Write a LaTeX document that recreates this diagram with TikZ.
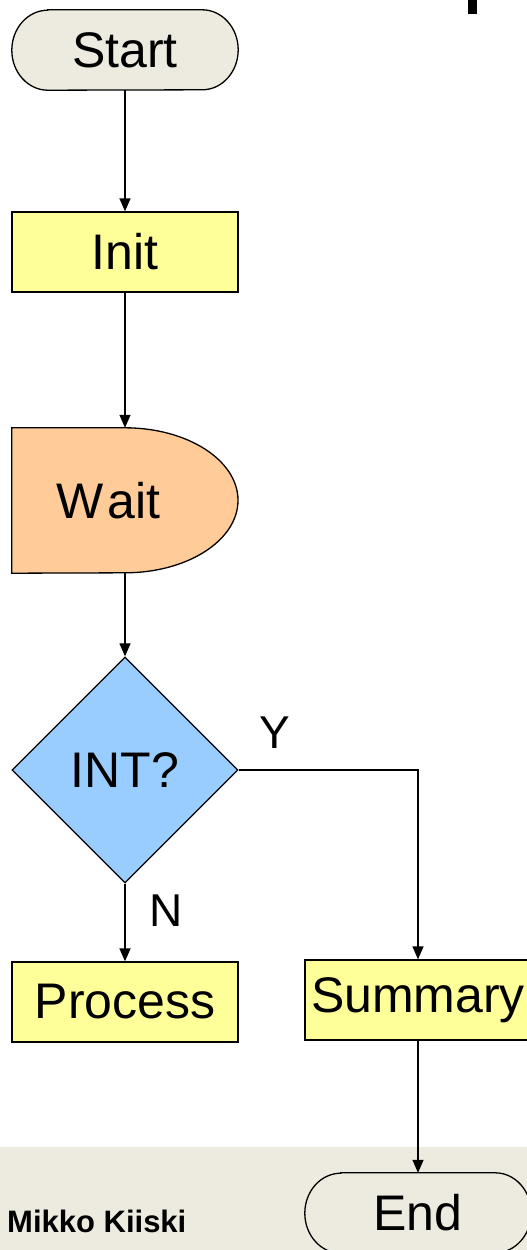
\documentclass[tikz,border=0pt]{standalone}
\usepackage{fontspec}
\setmainfont{Liberation Sans}
\usetikzlibrary{arrows.meta,shapes.geometric,backgrounds}

\definecolor{termfill}{HTML}{EDEBE0}
\definecolor{bandfill}{HTML}{EDEBE0}
\definecolor{procyellow}{HTML}{FFFF99}
\definecolor{waitorange}{HTML}{FFCC99}
\definecolor{decblue}{HTML}{99CCFF}

\tikzset{
  big/.style={font=\fontsize{50}{60}\selectfont, inner sep=0pt},
  outline/.style={draw=black, line width=1.3pt},
  procbox/.style={big, outline, fill=procyellow, minimum width=226pt, minimum height=80pt},
  termbox/.style={big, minimum width=226pt, minimum height=80pt},
  waitbox/.style={big, minimum width=226pt, minimum height=145pt},
  decbox/.style={big, outline, fill=decblue, diamond, minimum width=226pt, minimum height=226pt},
  flow/.style={line width=1.3pt, -{Triangle[length=13pt,width=11pt]}},
  branch/.style={font=\fontsize{46}{54}\selectfont, inner sep=0pt},
}

\begin{document}
\begin{tikzpicture}[x=1pt,y=-1pt]
  \useasboundingbox (0,0) rectangle (527,1250);
  \clip (0,0) rectangle (527,1250);

  % flowchart nodes
  \node[termbox] (start) at (125,50) {Start};
  \node[procbox] (init) at (125,252) {Init};
  \node[waitbox] (wait) at (125,500.5) {\hspace*{-34pt}W\kern4pt ait};
  \node[decbox] (int) at (125,770) {INT?};
  \node[procbox] (process) at (125,1002) {Process};
  \node[procbox] (summary) at (418,1000) {\raisebox{-3pt}{Summary}};
  \node[termbox] (end) at (418,1213) {End};

  \node[branch, anchor=center] (ylab) at (275,733) {Y};
  \node[branch, anchor=center] (nlab) at (166,911) {N};

  \node[font=\bfseries\fontsize{31}{36}\selectfont, inner sep=0pt, anchor=west] (author) at (7,1221) {Mikko Kiiski};

  % fragment of a letter at the upper edge
  \fill (468,0) rectangle (477,14);

  % shapes behind the texts
  \begin{scope}[on background layer]
    \fill[bandfill] (0,1147) rectangle (527,1250);
    \foreach \t in {start,end}{
      \draw[outline, fill=termfill]
        ([xshift=36pt]\t.north west) -- ([xshift=-36pt]\t.north east)
        arc[start angle=90, end angle=-90, x radius=36pt, y radius=40pt]
        -- ([xshift=36pt]\t.south west)
        arc[start angle=270, end angle=90, x radius=36pt, y radius=40pt]
        -- cycle;
    }
    \draw[outline, fill=waitorange]
      (wait.north west) -- (wait.north)
      arc[start angle=90, end angle=-90, x radius=113pt, y radius=72.5pt]
      -- (wait.south west) -- cycle;
  \end{scope}

  % connectors
  \draw[flow] (start) -- (init);
  \draw[flow] (init) -- (wait);
  \draw[flow] (wait) -- (int);
  \draw[flow] (int.south) -- (process.north);
  \draw[flow] (int.east) -| (summary.north);
  \draw[flow] (summary) -- (end);
\end{tikzpicture}
\end{document}
